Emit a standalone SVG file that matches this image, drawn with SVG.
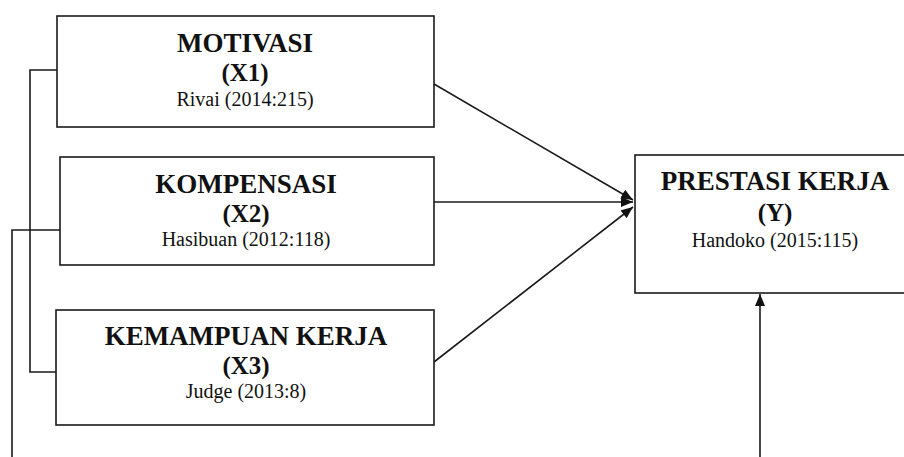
<svg xmlns="http://www.w3.org/2000/svg" width="904" height="457" viewBox="0 0 904 457">
<style>
.box{fill:#fff;stroke:#1a1a1a;stroke-width:1.6}
.ln{fill:none;stroke:#1a1a1a;stroke-width:1.6}
text{font-family:"Liberation Serif","DejaVu Serif","Times New Roman",serif;fill:#111;text-anchor:middle}
.t{font-weight:bold;font-size:27px}
.c{font-weight:bold;font-size:25px}
.r{font-size:20px}
</style>
<defs>
<marker id="ah" markerUnits="userSpaceOnUse" markerWidth="14" markerHeight="12" refX="12" refY="5" orient="auto">
<path d="M0,0 L12,5 L0,10 Z" fill="#111"/>
</marker>
</defs>
<rect x="0" y="0" width="904" height="457" fill="#fff"/>
<g id="connectors">
<polyline class="ln" points="57,70 30,70 30,372 56,372"/>
<polyline class="ln" points="60,230 12,230 12,457"/>
<line class="ln" x1="434" y1="84" x2="633" y2="200" marker-end="url(#ah)"/>
<line class="ln" x1="434" y1="202" x2="633" y2="202" marker-end="url(#ah)"/>
<line class="ln" x1="434" y1="362" x2="633" y2="207" marker-end="url(#ah)"/>
<line class="ln" x1="760" y1="457" x2="760" y2="294" marker-end="url(#ah)"/>
</g>
<g id="x1">
<rect class="box" x="57" y="16" width="377" height="111"/>
<text class="t" x="245" y="52">MOTIVASI</text>
<text class="c" x="245" y="81">(X1)</text>
<text class="r" x="245" y="106">Rivai (2014:215)</text>
</g>
<g id="x2">
<rect class="box" x="60" y="157" width="374" height="108"/>
<text class="t" x="246" y="193">KOMPENSASI</text>
<text class="c" x="246" y="222">(X2)</text>
<text class="r" x="246" y="246">Hasibuan (2012:118)</text>
</g>
<g id="x3">
<rect class="box" x="56" y="310" width="378" height="115"/>
<text class="t" x="246" y="345">KEMAMPUAN KERJA</text>
<text class="c" x="246" y="374">(X3)</text>
<text class="r" x="246" y="398" font-size="19">Judge (2013:8)</text>
</g>
<g id="y">
<rect class="box" x="635" y="155" width="280" height="138"/>
<text class="t" x="775" y="190">PRESTASI KERJA</text>
<text class="c" x="775" y="221">(Y)</text>
<text class="r" x="775" y="247">Handoko (2015:115)</text>
</g>
</svg>
